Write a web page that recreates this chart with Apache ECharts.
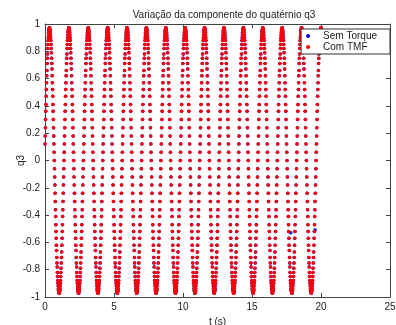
<!DOCTYPE html>
<html><head><meta charset="utf-8">
<script src="https://cdn.jsdelivr.net/npm/echarts@6/dist/echarts.min.js"></script>
<style>html,body{margin:0;padding:0;background:#fff}#c{width:396px;height:325px}</style>
</head><body><div id="c"></div>
<script>
const titleText = 'Variação da componente do quatérnio q3';
const xAxisName = 't (s)';
const yAxisName = 'q3';
const seriesNames = ['Sem Torque', 'Com TMF'];
const xTickValues = [0, 5, 10, 15, 20, 25];
const yTickValues = [-1, -0.8, -0.6, -0.4, -0.2, 0, 0.2, 0.4, 0.6, 0.8, 1];
const sampleTime = 0.01405; // s, spacing of the samples along t
// q3 samples (Com TMF), one row per oscillation
const q3Values = [
0.12,0.18,0.24,0.3,0.36,0.41,0.47,0.52,0.57,0.62,0.66,0.71,0.75,0.78,0.82,0.85,0.88,0.9,0.92,0.94,0.95,0.96,0.97,0.97,0.97,0.96,0.95,0.94,0.92,0.9,0.88,0.85,0.82,0.79,0.75,0.71,0.67,0.62,0.57,0.52,0.47,0.41,0.36,0.3,0.24,0.18,0.12,0.06,0,-0.06,-0.12,-0.18,-0.24,-0.3,-0.36,-0.41,-0.47,-0.52,-0.57,-0.62,-0.66,-0.71,-0.75,-0.78,-0.82,-0.85,-0.88,-0.9,-0.92,-0.94,-0.95,-0.96,-0.97,-0.97,-0.97,-0.96,-0.95,-0.94,-0.92,-0.9,-0.88,-0.85,-0.82,-0.79,-0.75,-0.71,-0.67,-0.62,-0.57,-0.52,-0.47,-0.41,-0.36,-0.3,-0.24,-0.18,-0.12,-0.06,0,0.06,
0.12,0.18,0.24,0.3,0.36,0.41,0.47,0.52,0.57,0.62,0.66,0.71,0.75,0.78,0.82,0.85,0.88,0.9,0.92,0.94,0.95,0.96,0.97,0.97,0.97,0.96,0.95,0.94,0.92,0.9,0.88,0.85,0.82,0.79,0.75,0.71,0.67,0.62,0.57,0.52,0.47,0.41,0.36,0.3,0.24,0.18,0.12,0.06,0,-0.06,-0.12,-0.18,-0.24,-0.3,-0.36,-0.41,-0.47,-0.52,-0.57,-0.62,-0.66,-0.71,-0.75,-0.78,-0.82,-0.85,-0.88,-0.9,-0.92,-0.94,-0.95,-0.96,-0.97,-0.97,-0.97,-0.96,-0.95,-0.94,-0.92,-0.9,-0.88,-0.85,-0.82,-0.79,-0.75,-0.71,-0.67,-0.62,-0.57,-0.52,-0.47,-0.41,-0.36,-0.3,-0.24,-0.18,-0.12,-0.06,0,0.06,
0.12,0.18,0.24,0.3,0.36,0.41,0.47,0.52,0.57,0.62,0.66,0.71,0.75,0.78,0.82,0.85,0.88,0.9,0.92,0.94,0.95,0.96,0.97,0.97,0.97,0.96,0.95,0.94,0.92,0.9,0.88,0.85,0.82,0.79,0.75,0.71,0.67,0.62,0.57,0.52,0.47,0.41,0.36,0.3,0.24,0.18,0.12,0.06,0,-0.06,-0.12,-0.18,-0.24,-0.3,-0.36,-0.41,-0.47,-0.52,-0.57,-0.62,-0.66,-0.71,-0.75,-0.78,-0.82,-0.85,-0.88,-0.9,-0.92,-0.94,-0.95,-0.96,-0.97,-0.97,-0.97,-0.96,-0.95,-0.94,-0.92,-0.9,-0.88,-0.85,-0.82,-0.79,-0.75,-0.71,-0.67,-0.62,-0.57,-0.52,-0.47,-0.41,-0.36,-0.3,-0.24,-0.18,-0.12,-0.06,0,0.06,
0.12,0.18,0.24,0.3,0.36,0.41,0.47,0.52,0.57,0.62,0.66,0.71,0.75,0.78,0.82,0.85,0.88,0.9,0.92,0.94,0.95,0.96,0.97,0.97,0.97,0.96,0.95,0.94,0.92,0.9,0.88,0.85,0.82,0.79,0.75,0.71,0.67,0.62,0.57,0.52,0.47,0.41,0.36,0.3,0.24,0.18,0.12,0.06,0,-0.06,-0.12,-0.18,-0.24,-0.3,-0.36,-0.41,-0.47,-0.52,-0.57,-0.62,-0.66,-0.71,-0.75,-0.78,-0.82,-0.85,-0.88,-0.9,-0.92,-0.94,-0.95,-0.96,-0.97,-0.97,-0.97,-0.96,-0.95,-0.94,-0.92,-0.9,-0.88,-0.85,-0.82,-0.79,-0.75,-0.71,-0.67,-0.62,-0.57,-0.52,-0.47,-0.41,-0.36,-0.3,-0.24,-0.18,-0.12,-0.06,0,0.06,
0.12,0.18,0.24,0.3,0.36,0.41,0.47,0.52,0.57,0.62,0.66,0.71,0.75,0.78,0.82,0.85,0.88,0.9,0.92,0.94,0.95,0.96,0.97,0.97,0.97,0.96,0.95,0.94,0.92,0.9,0.88,0.85,0.82,0.79,0.75,0.71,0.67,0.62,0.57,0.52,0.47,0.41,0.36,0.3,0.24,0.18,0.12,0.06,0,-0.06,-0.12,-0.18,-0.24,-0.3,-0.36,-0.41,-0.47,-0.52,-0.57,-0.62,-0.66,-0.71,-0.75,-0.78,-0.82,-0.85,-0.88,-0.9,-0.92,-0.94,-0.95,-0.96,-0.97,-0.97,-0.97,-0.96,-0.95,-0.94,-0.92,-0.9,-0.88,-0.85,-0.82,-0.79,-0.75,-0.71,-0.67,-0.62,-0.57,-0.52,-0.47,-0.41,-0.36,-0.3,-0.24,-0.18,-0.12,-0.06,0,0.06,
0.12,0.18,0.24,0.3,0.36,0.41,0.47,0.52,0.57,0.62,0.66,0.71,0.75,0.78,0.82,0.85,0.88,0.9,0.92,0.94,0.95,0.96,0.97,0.97,0.97,0.96,0.95,0.94,0.92,0.9,0.88,0.85,0.82,0.79,0.75,0.71,0.67,0.62,0.57,0.52,0.47,0.41,0.36,0.3,0.24,0.18,0.12,0.06,0,-0.06,-0.12,-0.18,-0.24,-0.3,-0.36,-0.41,-0.47,-0.52,-0.57,-0.62,-0.66,-0.71,-0.75,-0.78,-0.82,-0.85,-0.88,-0.9,-0.92,-0.94,-0.95,-0.96,-0.97,-0.97,-0.97,-0.96,-0.95,-0.94,-0.92,-0.9,-0.88,-0.85,-0.82,-0.79,-0.75,-0.71,-0.67,-0.62,-0.57,-0.52,-0.47,-0.41,-0.36,-0.3,-0.24,-0.18,-0.12,-0.06,0,0.06,
0.12,0.18,0.24,0.3,0.36,0.41,0.47,0.52,0.57,0.62,0.66,0.71,0.75,0.78,0.82,0.85,0.88,0.9,0.92,0.94,0.95,0.96,0.97,0.97,0.97,0.96,0.95,0.94,0.92,0.9,0.88,0.85,0.82,0.79,0.75,0.71,0.67,0.62,0.57,0.52,0.47,0.41,0.36,0.3,0.24,0.18,0.12,0.06,0,-0.06,-0.12,-0.18,-0.24,-0.3,-0.36,-0.41,-0.47,-0.52,-0.57,-0.62,-0.66,-0.71,-0.75,-0.78,-0.82,-0.85,-0.88,-0.9,-0.92,-0.94,-0.95,-0.96,-0.97,-0.97,-0.97,-0.96,-0.95,-0.94,-0.92,-0.9,-0.88,-0.85,-0.82,-0.79,-0.75,-0.71,-0.67,-0.62,-0.57,-0.52,-0.47,-0.41,-0.36,-0.3,-0.24,-0.18,-0.12,-0.06,0,0.06,
0.12,0.18,0.24,0.3,0.36,0.41,0.47,0.52,0.57,0.62,0.66,0.71,0.75,0.78,0.82,0.85,0.88,0.9,0.92,0.94,0.95,0.96,0.97,0.97,0.97,0.96,0.95,0.94,0.92,0.9,0.88,0.85,0.82,0.79,0.75,0.71,0.67,0.62,0.57,0.52,0.47,0.41,0.36,0.3,0.24,0.18,0.12,0.06,0,-0.06,-0.12,-0.18,-0.24,-0.3,-0.36,-0.41,-0.47,-0.52,-0.57,-0.62,-0.66,-0.71,-0.75,-0.78,-0.82,-0.85,-0.88,-0.9,-0.92,-0.94,-0.95,-0.96,-0.97,-0.97,-0.97,-0.96,-0.95,-0.94,-0.92,-0.9,-0.88,-0.85,-0.82,-0.79,-0.75,-0.71,-0.67,-0.62,-0.57,-0.52,-0.47,-0.41,-0.36,-0.3,-0.24,-0.18,-0.12,-0.06,0,0.06,
0.12,0.18,0.24,0.3,0.36,0.41,0.47,0.52,0.57,0.62,0.66,0.71,0.75,0.78,0.82,0.85,0.88,0.9,0.92,0.94,0.95,0.96,0.97,0.97,0.97,0.96,0.95,0.94,0.92,0.9,0.88,0.85,0.82,0.79,0.75,0.71,0.67,0.62,0.57,0.52,0.47,0.41,0.36,0.3,0.24,0.18,0.12,0.06,0,-0.06,-0.12,-0.18,-0.24,-0.3,-0.36,-0.41,-0.47,-0.52,-0.57,-0.62,-0.66,-0.71,-0.75,-0.78,-0.82,-0.85,-0.88,-0.9,-0.92,-0.94,-0.95,-0.96,-0.97,-0.97,-0.97,-0.96,-0.95,-0.94,-0.92,-0.9,-0.88,-0.85,-0.82,-0.79,-0.75,-0.71,-0.67,-0.62,-0.57,-0.52,-0.47,-0.41,-0.36,-0.3,-0.24,-0.18,-0.12,-0.06,0,0.06,
0.12,0.18,0.24,0.3,0.36,0.41,0.47,0.52,0.57,0.62,0.66,0.71,0.75,0.78,0.82,0.85,0.88,0.9,0.92,0.94,0.95,0.96,0.97,0.97,0.97,0.96,0.95,0.94,0.92,0.9,0.88,0.85,0.82,0.79,0.75,0.71,0.67,0.62,0.57,0.52,0.47,0.41,0.36,0.3,0.24,0.18,0.12,0.06,0,-0.06,-0.12,-0.18,-0.24,-0.3,-0.36,-0.41,-0.47,-0.52,-0.57,-0.62,-0.66,-0.71,-0.75,-0.78,-0.82,-0.85,-0.88,-0.9,-0.92,-0.94,-0.95,-0.96,-0.97,-0.97,-0.97,-0.96,-0.95,-0.94,-0.92,-0.9,-0.88,-0.85,-0.82,-0.79,-0.75,-0.71,-0.67,-0.62,-0.57,-0.52,-0.47,-0.41,-0.36,-0.3,-0.24,-0.18,-0.12,-0.06,0,0.06,
0.12,0.18,0.24,0.3,0.36,0.41,0.47,0.52,0.57,0.62,0.66,0.71,0.75,0.78,0.82,0.85,0.88,0.9,0.92,0.94,0.95,0.96,0.97,0.97,0.97,0.96,0.95,0.94,0.92,0.9,0.88,0.85,0.82,0.79,0.75,0.71,0.67,0.62,0.57,0.52,0.47,0.41,0.36,0.3,0.24,0.18,0.12,0.06,0,-0.06,-0.12,-0.18,-0.24,-0.3,-0.36,-0.41,-0.47,-0.52,-0.57,-0.62,-0.66,-0.71,-0.75,-0.78,-0.82,-0.85,-0.88,-0.9,-0.92,-0.94,-0.95,-0.96,-0.97,-0.97,-0.97,-0.96,-0.95,-0.94,-0.92,-0.9,-0.88,-0.85,-0.82,-0.79,-0.75,-0.71,-0.67,-0.62,-0.57,-0.52,-0.47,-0.41,-0.36,-0.3,-0.24,-0.18,-0.12,-0.06,0,0.06,
0.12,0.18,0.24,0.3,0.36,0.41,0.47,0.52,0.57,0.62,0.66,0.71,0.75,0.78,0.82,0.85,0.88,0.9,0.92,0.94,0.95,0.96,0.97,0.97,0.97,0.96,0.95,0.94,0.92,0.9,0.88,0.85,0.82,0.79,0.75,0.71,0.67,0.62,0.57,0.52,0.47,0.41,0.36,0.3,0.24,0.18,0.12,0.06,0,-0.06,-0.12,-0.18,-0.24,-0.3,-0.36,-0.41,-0.47,-0.52,-0.57,-0.62,-0.66,-0.71,-0.75,-0.78,-0.82,-0.85,-0.88,-0.9,-0.92,-0.94,-0.95,-0.96,-0.97,-0.97,-0.97,-0.96,-0.95,-0.94,-0.92,-0.9,-0.88,-0.85,-0.82,-0.79,-0.75,-0.71,-0.67,-0.62,-0.57,-0.52,-0.47,-0.41,-0.36,-0.3,-0.24,-0.18,-0.12,-0.06,0,0.06,
0.12,0.18,0.24,0.3,0.36,0.41,0.47,0.52,0.57,0.62,0.66,0.71,0.75,0.78,0.82,0.85,0.88,0.9,0.92,0.94,0.95,0.96,0.97,0.97,0.97,0.96,0.95,0.94,0.92,0.9,0.88,0.85,0.82,0.79,0.75,0.71,0.67,0.62,0.57,0.52,0.47,0.41,0.36,0.3,0.24,0.18,0.12,0.06,0,-0.06,-0.12,-0.18,-0.24,-0.3,-0.36,-0.41,-0.47,-0.52,-0.57,-0.62,-0.66,-0.71,-0.75,-0.78,-0.82,-0.85,-0.88,-0.9,-0.92,-0.94,-0.95,-0.96,-0.97,-0.97,-0.97,-0.96,-0.95,-0.94,-0.92,-0.9,-0.88,-0.85,-0.82,-0.79,-0.75,-0.71,-0.67,-0.62,-0.57,-0.52,-0.47,-0.41,-0.36,-0.3,-0.24,-0.18,-0.12,-0.06,0,0.06,
0.12,0.18,0.24,0.3,0.36,0.41,0.47,0.52,0.57,0.62,0.66,0.71,0.75,0.78,0.82,0.85,0.88,0.9,0.92,0.94,0.95,0.96,0.97,0.97,0.97,0.96,0.95,0.94,0.92,0.9,0.88,0.85,0.82,0.79,0.75,0.71,0.67,0.62,0.57,0.52,0.47,0.41,0.36,0.3,0.24,0.18,0.12,0.06,0,-0.06,-0.12,-0.18,-0.24,-0.3,-0.36,-0.41,-0.47,-0.52,-0.57,-0.62,-0.66,-0.71,-0.75,-0.78,-0.82,-0.85,-0.88,-0.9,-0.92,-0.94,-0.95,-0.96,-0.97,-0.97,-0.97,-0.96,-0.95,-0.94,-0.92,-0.9,-0.88,-0.85,-0.82,-0.79,-0.75,-0.71,-0.67,-0.62,-0.57,-0.52,-0.47,-0.41,-0.36,-0.3,-0.24,-0.18,-0.12,-0.06,0,0.06,
0.12,0.18,0.24,0.3,0.36,0.41,0.47,0.52,0.57,0.62,0.66,0.71,0.75,0.78,0.82,0.85,0.88,0.9,0.92,0.94,0.95,0.96,0.97,0.97,0.97
];
// the few "Sem Torque" samples that show out from under the red ones
const semTorqueExtraT = [17.8, 19.57];
const semTorqueExtraQ = [-0.53, -0.51];

const comTmfData = q3Values.map(function (v, i) { return [i * sampleTime, v]; });
const semTorqueData = comTmfData.concat(semTorqueExtraT.map(function (t, i) { return [t, semTorqueExtraQ[i]]; }));

const axisColor = '#444';
const textColor = '#222';
const fontFamily = 'Liberation Sans, Arial, sans-serif';
const chart = echarts.init(document.getElementById('c'), null, { renderer: 'canvas' });

function fmtTick(v) {
  const r = Math.round(v * 10) / 10;
  return r === 0 ? '0' : String(r);
}

function boxAxis(pos, ticks, showLabels, extra) {
  const a = {
    type: 'value', position: pos,
    min: ticks[0], max: ticks[ticks.length - 1],
    interval: Math.round((ticks[1] - ticks[0]) * 1000) / 1000,
    axisLine: { show: true, onZero: false, lineStyle: { color: axisColor, width: 1 } },
    axisTick: { show: true, inside: true, length: 4, lineStyle: { color: axisColor } },
    axisLabel: { show: showLabels, fontSize: 10, color: textColor, fontFamily: fontFamily, margin: 5, formatter: fmtTick },
    splitLine: { show: false }
  };
  return Object.assign(a, extra || {});
}

chart.setOption({
  animation: false,
  backgroundColor: '#fff',
  title: {
    text: titleText, left: 219, top: 5, textAlign: 'center',
    textStyle: { fontSize: 10, fontWeight: 'normal', color: textColor, fontFamily: fontFamily }
  },
  legend: {
    orient: 'vertical', right: 6, top: 29, z: 10,
    backgroundColor: '#fff', borderColor: '#333', borderWidth: 1,
    padding: [2, 13, 2, 5], itemWidth: 20, itemHeight: 4, itemGap: 1,
    textStyle: { fontSize: 10, color: textColor, fontFamily: fontFamily },
    data: [{ name: seriesNames[0], icon: 'circle' }, { name: seriesNames[1], icon: 'circle' }]
  },
  grid: { left: 45, right: 6, top: 24, bottom: 28, containLabel: false, outerBoundsMode: 'none' },
  xAxis: [
    boxAxis('bottom', xTickValues, true, {
      name: xAxisName, nameLocation: 'middle', nameGap: 17,
      nameTextStyle: { fontSize: 10, color: textColor, fontFamily: fontFamily }
    }),
    boxAxis('top', xTickValues, false)
  ],
  yAxis: [
    boxAxis('left', yTickValues, true, {
      name: yAxisName, nameLocation: 'middle', nameGap: 19, nameMoveOverlap: false,
      nameTextStyle: { fontSize: 10, color: textColor, fontFamily: fontFamily }
    }),
    boxAxis('right', yTickValues, false)
  ],
  series: [
    { name: seriesNames[0], type: 'scatter', xAxisIndex: 0, yAxisIndex: 0, data: semTorqueData,
      symbol: 'circle', symbolSize: 3.5, itemStyle: { color: '#0000ff', opacity: 1 }, silent: true },
    { name: seriesNames[1], type: 'scatter', xAxisIndex: 0, yAxisIndex: 0, data: comTmfData,
      symbol: 'circle', symbolSize: 3.5, itemStyle: { color: '#ff0000', opacity: 1 }, silent: true }
  ]
});
</script>
</body></html>
